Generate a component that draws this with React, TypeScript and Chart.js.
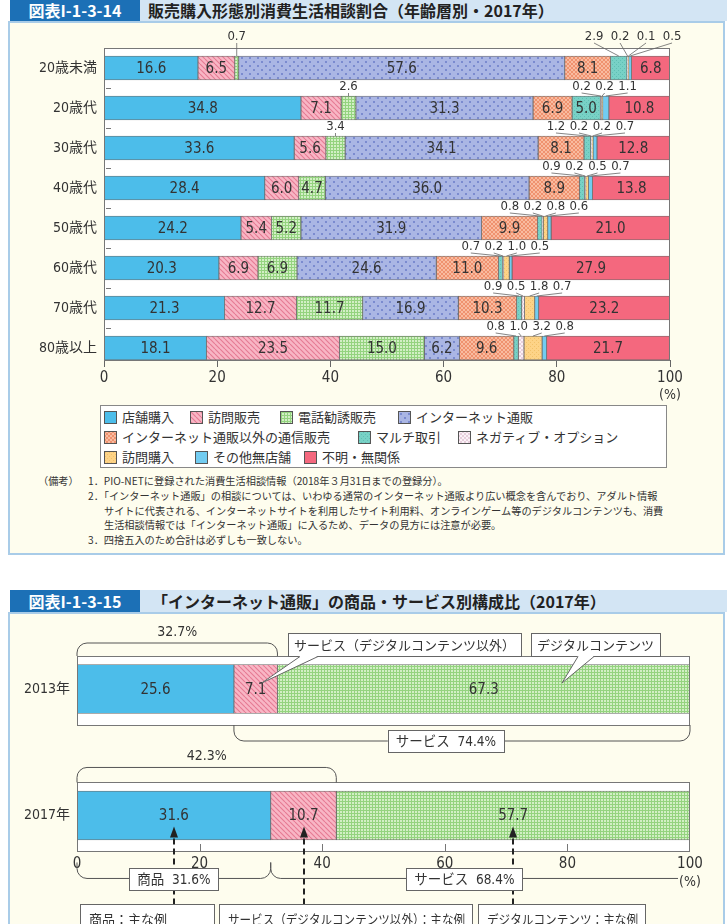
import React, { useEffect, useMemo, useRef } from 'react';
import { Chart, registerables } from 'chart.js';

Chart.register(...registerables);

const NUM = "'Liberation Sans Narrow', 'DejaVu Sans Condensed', 'Noto Sans CJK JP', sans-serif";
const JP = "'Noto Sans CJK JP', 'Noto Sans', sans-serif";

// ---------- Chart 1 data ----------
const ageGroups = ['20歳未満', '20歳代', '30歳代', '40歳代', '50歳代', '60歳代', '70歳代', '80歳以上'];
const seriesNames = ['店舗購入', '訪問販売', '電話勧誘販売', 'インターネット通販', 'インターネット通販以外の通信販売', 'マルチ取引', 'ネガティブ・オプション', '訪問購入', 'その他無店舗', '不明・無関係'];
const storePurchase = [16.6, 34.8, 33.6, 28.4, 24.2, 20.3, 21.3, 18.1];
const doorToDoorSales = [6.5, 7.1, 5.6, 6.0, 5.4, 6.9, 12.7, 23.5];
const telemarketing = [0.7, 2.6, 3.4, 4.7, 5.2, 6.9, 11.7, 15.0];
const onlineShopping = [57.6, 31.3, 34.1, 36.0, 31.9, 24.6, 16.9, 6.2];
const otherMailOrder = [8.1, 6.9, 8.1, 8.9, 9.9, 11.0, 10.3, 9.6];
const multiLevel = [2.9, 5.0, 1.2, 0.9, 0.8, 0.7, 0.9, 0.8];
const negativeOption = [0.2, 0.2, 0.2, 0.2, 0.2, 0.2, 0.5, 1.0];
const homePurchase = [0.1, 0.2, 0.2, 0.5, 0.8, 1.0, 1.8, 3.2];
const otherNonStore = [0.5, 1.1, 0.7, 0.7, 0.6, 0.5, 0.7, 0.8];
const unknownUnrelated = [6.8, 10.8, 12.8, 13.8, 21.0, 27.9, 23.2, 21.7];
const seriesValues = [storePurchase, doorToDoorSales, telemarketing, onlineShopping, otherMailOrder, multiLevel, negativeOption, homePurchase, otherNonStore, unknownUnrelated];
const xTicks1 = [0, 20, 40, 60, 80, 100];

// ---------- Chart 2 data ----------
const years = ['2013年', '2017年'];
const goods = [25.6, 31.6];
const servicesNonDigital = [7.1, 10.7];
const digitalContent = [67.3, 57.7];
const webNames = ['商品', 'サービス（デジタルコンテンツ以外）', 'デジタルコンテンツ'];
const webValues = [goods, servicesNonDigital, digitalContent];
const xTicks2 = [0, 20, 40, 60, 80, 100];

// ---------- styles ----------
type Fill = { color?: string; tile?: string };
const seriesStyles: Fill[] = [
  { color: '#4cbdea' },
  { tile: 'stripe' },
  { tile: 'grid' },
  { tile: 'dots' },
  { tile: 'hatch' },
  { tile: 'multi' },
  { tile: 'neg' },
  { tile: 'visit' },
  { color: '#72ccf1' },
  { color: '#f4687e' },
];
const webStyles: Fill[] = [{ color: '#4cbdea' }, { tile: 'stripe' }, { tile: 'grid' }];

const SMALL = 4.5;

function makeTile(kind: string): HTMLCanvasElement {
  const c = document.createElement('canvas');
  let s = 4;
  if (kind === 'stripe') s = 5;
  if (kind === 'grid') s = 3;
  if (kind === 'dots') s = 8;
  c.width = s;
  c.height = s;
  const g = c.getContext('2d')!;
  const bg: Record<string, string> = {
    stripe: '#f8b6c5', grid: '#d2efc5', dots: '#aab6e4', hatch: '#f9bba0', neg: '#fbf2f7', visit: '#fdd387', multi: '#78d1c6',
  };
  g.fillStyle = bg[kind];
  g.fillRect(0, 0, s, s);
  if (kind === 'stripe') {
    g.strokeStyle = '#e57a93';
    g.lineWidth = 1.1;
    for (const o of [-s, 0, s]) {
      g.beginPath(); g.moveTo(o, 0); g.lineTo(o + s, s); g.stroke();
    }
  } else if (kind === 'grid') {
    g.fillStyle = '#94d37f';
    g.fillRect(0, 0, s, 1);
    g.fillRect(0, 0, 1, s);
  } else if (kind === 'dots') {
    g.fillStyle = '#7b8bcf';
    g.fillRect(1, 1, 2, 2);
    g.fillRect(5, 5, 2, 2);
  } else if (kind === 'hatch' || kind === 'neg') {
    g.strokeStyle = kind === 'hatch' ? '#ec8862' : '#e3c5d6';
    g.lineWidth = 0.8;
    for (const o of [-s, 0, s]) {
      g.beginPath(); g.moveTo(o, 0); g.lineTo(o + s, s); g.stroke();
      g.beginPath(); g.moveTo(o + s, 0); g.lineTo(o, s); g.stroke();
    }
  } else if (kind === 'visit' || kind === 'multi') {
    g.fillStyle = kind === 'visit' ? '#f2c16a' : '#5fbfb3';
    g.fillRect(0, 0, 1, 1);
    g.fillRect(2, 2, 1, 1);
  }
  return c;
}

const tileKinds = ['stripe', 'grid', 'dots', 'hatch', 'neg', 'visit', 'multi'];

function fillFor(ctx: CanvasRenderingContext2D, f: Fill, tiles: Record<string, HTMLCanvasElement>): any {
  if (f.tile) return ctx.createPattern(tiles[f.tile], 'repeat');
  return f.color;
}

function bracket(ctx: CanvasRenderingContext2D, x1: number, x2: number, yEdge: number, yLine: number, r: number, closeRight = true) {
  ctx.beginPath();
  ctx.moveTo(x1, yEdge);
  ctx.arcTo(x1, yLine, x1 + r, yLine, r);
  if (closeRight) {
    ctx.arcTo(x2, yLine, x2, yEdge, r);
    ctx.lineTo(x2, yEdge);
  } else {
    ctx.lineTo(x2, yLine);
  }
  ctx.stroke();
}

function labelBox(ctx: CanvasRenderingContext2D, text: string, cx: number, cy: number, h = 22) {
  ctx.font = `13.5px ${NUM}`;
  const w = ctx.measureText(text).width + 16;
  ctx.fillStyle = '#fff';
  ctx.fillRect(cx - w / 2, cy - h / 2, w, h);
  ctx.strokeStyle = '#666';
  ctx.lineWidth = 1;
  ctx.strokeRect(Math.round(cx - w / 2) + 0.5, Math.round(cy - h / 2) + 0.5, Math.round(w), h);
  ctx.fillStyle = '#333';
  ctx.textAlign = 'center';
  ctx.textBaseline = 'middle';
  ctx.fillText(text, cx, cy + 1);
}

function callout(ctx: CanvasRenderingContext2D, text: string, left: number, top: number, baseL: number, baseR: number, tipX: number, tipY: number) {
  ctx.font = `13px ${JP}`;
  const w = Math.round(ctx.measureText(text).width + 12);
  const h = 23;
  ctx.fillStyle = '#fff';
  ctx.fillRect(left, top, w, h);
  ctx.strokeStyle = '#666';
  ctx.lineWidth = 1;
  ctx.strokeRect(left + 0.5, top + 0.5, w, h);
  ctx.beginPath();
  ctx.moveTo(baseL, top + h);
  ctx.lineTo(tipX, tipY);
  ctx.lineTo(baseR, top + h);
  ctx.closePath();
  ctx.fillStyle = '#fff';
  ctx.fill();
  ctx.beginPath();
  ctx.moveTo(baseL, top + h + 0.5);
  ctx.lineTo(tipX, tipY);
  ctx.lineTo(baseR, top + h + 0.5);
  ctx.stroke();
  ctx.fillStyle = '#333';
  ctx.textAlign = 'center';
  ctx.textBaseline = 'middle';
  ctx.fillText(text, left + w / 2, top + h / 2 + 1);
}

const plugin1 = {
  id: 'ageDecor',
  beforeDraw(chart: any) {
    const { ctx, chartArea: a } = chart;
    ctx.save();
    ctx.fillStyle = '#ffffff';
    ctx.fillRect(a.left, a.top, a.right - a.left, a.bottom - a.top);
    ctx.restore();
  },
  afterDatasetsDraw(chart: any) {
    const { ctx, chartArea: a } = chart;
    const ys = chart.scales.y;
    ctx.save();
    ctx.strokeStyle = '#777';
    ctx.lineWidth = 1;
    ctx.strokeRect(a.left + 0.5, a.top + 0.5, a.right - a.left - 1, a.bottom - a.top);
    for (let k = 1; k < ageGroups.length; k++) {
      const y = Math.round(ys.getPixelForValue(k - 0.5)) + 0.5;
      ctx.beginPath(); ctx.moveTo(a.left + 2, y); ctx.lineTo(a.left + 7, y); ctx.stroke();
    }
    ctx.textAlign = 'center';
    ctx.textBaseline = 'middle';
    for (let i = 0; i < ageGroups.length; i++) {
      const segs = seriesValues.map((vals, k) => {
        const el = chart.getDatasetMeta(k).data[i];
        const p = el.getProps(['x', 'y', 'base', 'height'], true);
        return { v: vals[i], x0: Math.min(p.x, p.base), x1: Math.max(p.x, p.base), y: p.y, h: p.height };
      });
      let j = 0;
      while (j < segs.length) {
        const s = segs[j];
        if (s.v >= SMALL) {
          ctx.font = `15px ${NUM}`;
          ctx.fillStyle = '#333';
          ctx.fillText(s.v.toFixed(1), (s.x0 + s.x1) / 2, s.y + 1);
          j++;
          continue;
        }
        let e = j;
        while (e + 1 < segs.length && segs[e + 1].v < SMALL) e++;
        const n = e - j + 1;
        const barTop = s.y - s.h / 2;
        const top = i === 0;
        const spacing = top ? 26 : 23;
        const gc = (segs[j].x0 + segs[e].x1) / 2 + (top && n > 1 ? 12 : 0);
        const ly = top ? a.top - 11 : barTop - 9;
        ctx.font = `13px ${NUM}`;
        ctx.strokeStyle = '#666';
        ctx.lineWidth = 0.8;
        for (let m = 0; m < n; m++) {
          const seg = segs[j + m];
          const lx = gc + (m - (n - 1) / 2) * spacing;
          ctx.fillStyle = '#333';
          ctx.fillText(seg.v.toFixed(1), lx, ly);
          ctx.beginPath(); ctx.moveTo(lx, ly + 6); ctx.lineTo((seg.x0 + seg.x1) / 2, barTop); ctx.stroke();
        }
        j = e + 1;
      }
    }
    ctx.restore();
  },
};

const plugin2 = {
  id: 'webDecor',
  beforeDraw(chart: any) {
    const { ctx, chartArea: a } = chart;
    const y = chart.scales.y;
    ctx.save();
    ctx.fillStyle = '#fff';
    years.forEach((_, i) => {
      const yc = y.getPixelForValue(i);
      ctx.fillRect(a.left, Math.round(yc - 33), a.right - a.left, 69);
    });
    ctx.restore();
  },
  afterDatasetsDraw(chart: any) {
    const { ctx, chartArea: a } = chart;
    const x = chart.scales.x;
    const y = chart.scales.y;
    const yc0 = y.getPixelForValue(0);
    const yc1 = y.getPixelForValue(1);
    ctx.save();
    ctx.strokeStyle = '#777';
    ctx.lineWidth = 1;
    years.forEach((_, i) => {
      const yc = y.getPixelForValue(i);
      ctx.strokeRect(a.left + 0.5, Math.round(yc - 33) + 0.5, a.right - a.left - 1, 69);
    });
    const fb = Math.round(yc1 - 33) + 69;
    xTicks2.slice(1, -1).forEach((t) => {
      const px = Math.round(x.getPixelForValue(t)) + 0.5;
      ctx.beginPath(); ctx.moveTo(px, fb); ctx.lineTo(px, fb - 7); ctx.stroke();
    });
    // value labels
    ctx.textAlign = 'center';
    ctx.textBaseline = 'middle';
    ctx.font = `15px ${NUM}`;
    ctx.fillStyle = '#333';
    const centers: number[][] = [];
    years.forEach((_, i) => {
      centers[i] = [];
      webValues.forEach((vals, k) => {
        const el = chart.getDatasetMeta(k).data[i];
        const p = el.getProps(['x', 'y', 'base'], true);
        const cx = (p.x + p.base) / 2;
        centers[i][k] = cx;
        ctx.fillStyle = '#333';
        ctx.fillText(vals[i].toFixed(1), cx, p.y + 1);
      });
    });
    // dashed arrows (drawn first so boxes sit on top)
    ctx.strokeStyle = '#222';
    ctx.fillStyle = '#222';
    ctx.lineWidth = 2;
    centers[1].forEach((cx) => {
      const px = Math.round(cx);
      ctx.setLineDash([6, 4]);
      ctx.beginPath(); ctx.moveTo(px, yc1 + 89); ctx.lineTo(px, yc1 + 21); ctx.stroke();
      ctx.setLineDash([]);
      ctx.beginPath(); ctx.moveTo(px, yc1 + 11); ctx.lineTo(px - 4, yc1 + 22); ctx.lineTo(px + 4, yc1 + 22); ctx.closePath(); ctx.fill();
    });
    // brackets above
    ctx.strokeStyle = '#555';
    ctx.lineWidth = 1;
    const left = x.getPixelForValue(0);
    const right = x.getPixelForValue(100);
    const s0 = goods[0] + servicesNonDigital[0];
    const s1 = goods[1] + servicesNonDigital[1];
    bracket(ctx, left, x.getPixelForValue(s0), yc0 - 33, yc0 - 46, 10);
    bracket(ctx, left, x.getPixelForValue(s1), yc1 - 33, yc1 - 48, 10);
    ctx.font = `14px ${NUM}`;
    ctx.fillStyle = '#333';
    ctx.textAlign = 'center';
    ctx.fillText(s0.toFixed(1) + '%', (left + x.getPixelForValue(s0)) / 2, yc0 - 57);
    ctx.fillText(s1.toFixed(1) + '%', (left + x.getPixelForValue(s1)) / 2, yc1 - 59);
    // service 2013 bracket below
    const g0 = x.getPixelForValue(goods[0]);
    ctx.strokeStyle = '#555';
    bracket(ctx, g0, right, yc0 + 36, yc0 + 52, 10);
    labelBox(ctx, 'サービス  ' + (servicesNonDigital[0] + digitalContent[0]).toFixed(1) + '%', (g0 + right) / 2 - 16, yc0 + 52);
    // 2017 brackets below axis
    const g1 = x.getPixelForValue(goods[1]);
    ctx.strokeStyle = '#555';
    bracket(ctx, left, g1, yc1 + 47, yc1 + 63, 10);
    bracket(ctx, g1, right - 12, yc1 + 47, yc1 + 63, 10, false);
    labelBox(ctx, '商品  ' + goods[1].toFixed(1) + '%', (left + g1) / 2, yc1 + 64);
    labelBox(ctx, 'サービス  ' + (servicesNonDigital[1] + digitalContent[1]).toFixed(1) + '%', (g1 + right) / 2 - 16, yc1 + 64);
    ctx.font = `14px ${NUM}`;
    ctx.fillStyle = '#333';
    ctx.textAlign = 'center';
    ctx.fillText('(%)', right, yc1 + 67);
    // callouts
    callout(ctx, 'サービス（デジタルコンテンツ以外）', 288, yc0 - 56, 300, 318, centers[0][1] + 6, yc0 - 6);
    callout(ctx, 'デジタルコンテンツ', 531, yc0 - 56, 578, 594, 562, yc0 - 6);
    // example boxes
    const boxes: [string, number, number][] = [
      ['商品：主な例', 80, 214],
      ['サービス（デジタルコンテンツ以外）：主な例', 219, 472],
      ['デジタルコンテンツ：主な例', 478, 645],
    ];
    ctx.lineWidth = 1;
    ctx.strokeStyle = '#666';
    ctx.font = `13px ${JP}`;
    ctx.textAlign = 'left';
    boxes.forEach(([t, l, r]) => {
      ctx.fillStyle = '#fff';
      ctx.fillRect(l, yc1 + 89, r - l, 40);
      ctx.strokeRect(l + 0.5, Math.round(yc1 + 89) + 0.5, r - l, 40);
      ctx.fillStyle = '#333';
      ctx.fillText(t, l + 9, yc1 + 104, r - l - 16);
    });
    ctx.restore();
  },
};

export default function App() {
  const ref1 = useRef<HTMLCanvasElement>(null);
  const ref2 = useRef<HTMLCanvasElement>(null);

  const tiles = useMemo(() => {
    const t: Record<string, HTMLCanvasElement> = {};
    tileKinds.forEach((k) => { t[k] = makeTile(k); });
    return t;
  }, []);
  const tileUrls = useMemo(() => {
    const u: Record<string, string> = {};
    Object.keys(tiles).forEach((k) => { u[k] = tiles[k].toDataURL(); });
    return u;
  }, [tiles]);

  useEffect(() => {
    const c1 = ref1.current!;
    const ctx1 = c1.getContext('2d')!;
    const chart1 = new Chart(c1, {
      type: 'bar',
      data: {
        datasets: seriesValues.map((vals, k) => ({
          label: seriesNames[k],
          data: vals.map((v, i) => ({ x: v, y: i })),
          backgroundColor: fillFor(ctx1, seriesStyles[k], tiles),
          borderColor: '#6a6a6a',
          borderWidth: 0.8,
          borderSkipped: false,
          barThickness: 24,
        })) as any,
      },
      options: {
        indexAxis: 'y',
        animation: false,
        responsive: false,
        maintainAspectRatio: false,
        layout: { padding: { top: 24, right: 57, left: 0, bottom: 0 } },
        plugins: { legend: { display: false }, tooltip: { enabled: false } },
        scales: {
          x: {
            type: 'linear',
            stacked: true,
            min: 0,
            max: 100,
            offset: false,
            afterBuildTicks: (s: any) => { s.ticks = xTicks1.map((v) => ({ value: v })); },
            ticks: { font: { size: 15, family: NUM }, color: '#333', padding: 2 },
            grid: { drawOnChartArea: false, drawTicks: true, tickLength: 7, color: '#666', offset: false },
            border: { display: false },
            afterFit: (s: any) => { s.height = 54; },
          },
          y: {
            type: 'linear',
            stacked: true,
            reverse: true,
            offset: false,
            min: -0.5,
            max: 7.3,
            afterBuildTicks: (s: any) => { s.ticks = ageGroups.map((_, i) => ({ value: i })); },
            ticks: { callback: (v: any) => ageGroups[v] ?? '', font: { size: 14, family: NUM }, color: '#333', padding: 7, autoSkip: false },
            grid: { display: false, drawTicks: false, offset: false },
            border: { display: false },
            afterFit: (s: any) => { s.width = 104; },
          },
        },
      } as any,
      plugins: [plugin1],
    });

    const c2 = ref2.current!;
    const ctx2 = c2.getContext('2d')!;
    const chart2 = new Chart(c2, {
      type: 'bar',
      data: {
        datasets: webValues.map((vals, k) => ({
          label: webNames[k],
          data: vals.map((v, i) => ({ x: v, y: i })),
          backgroundColor: fillFor(ctx2, webStyles[k], tiles),
          borderColor: '#6a6a6a',
          borderWidth: 0.8,
          borderSkipped: false,
          barThickness: 49,
        })) as any,
      },
      options: {
        indexAxis: 'y',
        animation: false,
        responsive: false,
        maintainAspectRatio: false,
        layout: { padding: { top: 44, right: 37, left: 0, bottom: 0 } },
        plugins: { legend: { display: false }, tooltip: { enabled: false } },
        scales: {
          x: {
            type: 'linear',
            stacked: true,
            min: 0,
            max: 100,
            offset: false,
            afterBuildTicks: (s: any) => { s.ticks = xTicks2.map((v) => ({ value: v })); },
            ticks: { font: { size: 15, family: NUM }, color: '#333', padding: 4 },
            grid: { display: false, drawTicks: false },
            border: { display: false },
            afterFit: (s: any) => { s.height = 73; },
          },
          y: {
            type: 'linear',
            stacked: true,
            reverse: true,
            offset: false,
            min: -0.261,
            max: 1.281,
            afterBuildTicks: (s: any) => { s.ticks = years.map((_, i) => ({ value: i })); },
            ticks: { callback: (v: any) => years[v] ?? '', font: { size: 14, family: NUM }, color: '#333', padding: 7, autoSkip: false },
            grid: { display: false, drawTicks: false, offset: false },
            border: { display: false },
            afterFit: (s: any) => { s.width = 77; },
          },
        },
      } as any,
      plugins: [plugin2],
    });

    return () => { chart1.destroy(); chart2.destroy(); };
  }, [tiles]);

  const legendRows: [number, number][][] = [
    [[0, 104], [1, 190], [2, 280], [3, 398]],
    [[4, 104], [5, 358], [6, 458]],
    [[7, 104], [8, 195], [9, 304]],
  ];
  const legendY = [417, 437, 457];

  const swatchStyle = (f: Fill): React.CSSProperties =>
    f.tile ? { backgroundImage: `url(${tileUrls[f.tile]})`, backgroundRepeat: 'repeat' } : { backgroundColor: f.color };

  const abs = (s: React.CSSProperties): React.CSSProperties => ({ position: 'absolute', ...s });

  const noteStyle: React.CSSProperties = { position: 'absolute', fontSize: 10.2, color: '#333', whiteSpace: 'nowrap', lineHeight: '14px' };

  const headNum: React.CSSProperties = { color: '#fff', fontWeight: 700, fontSize: 16, textAlign: 'center', fontFamily: "'Noto Sans CJK JP', sans-serif", letterSpacing: 0 };

  return (
    <div style={{ position: 'absolute', left: 0, top: 0, width: 727, height: 924, overflow: 'hidden', background: '#fff', fontFamily: JP }}>
      {/* header 1 */}
      <div style={abs({ left: 10, top: 0, width: 717, height: 21, background: '#d3e5f4' })} />
      <div style={abs({ left: 10, top: 0, width: 130, height: 21, background: '#1c70b6', lineHeight: '21px', ...headNum })}>図表I-1-3-14</div>
      <div style={abs({ left: 148, top: 0, height: 21, fontWeight: 700, fontSize: 16, lineHeight: '21px', color: '#222', whiteSpace: 'nowrap' })}>販売購入形態別消費生活相談割合（年齢層別・2017年）</div>
      {/* panel 1 */}
      <div style={abs({ left: 8, top: 21, width: 717, height: 534, background: '#fefdee', border: '2px solid #a9cce8', boxSizing: 'border-box' })} />
      <canvas ref={ref1} width={727} height={390} style={abs({ left: 0, top: 24, width: 727, height: 390 })} />
      <div style={abs({ left: 650, top: 386, width: 40, textAlign: 'center', fontSize: 14, fontFamily: NUM, color: '#333' })}>(%)</div>
      {/* legend */}
      <div style={abs({ left: 100, top: 405, width: 567, height: 63, background: '#fff', border: '1px solid #888', boxSizing: 'border-box' })} />
      {legendRows.map((row, r) =>
        row.map(([k, x]) => (
          <React.Fragment key={`${r}-${k}`}>
            <div style={abs({ left: x, top: legendY[r] - 6, width: 11, height: 11, border: '1px solid #555', ...swatchStyle(seriesStyles[k]) })} />
            <div style={abs({ left: x + 18, top: legendY[r] - 10, fontSize: 13, lineHeight: '20px', color: '#333', whiteSpace: 'nowrap' })}>{seriesNames[k]}</div>
          </React.Fragment>
        ))
      )}
      {/* notes */}
      <div style={{ ...noteStyle, left: 38, top: 474 }}>（備考）</div>
      <div style={{ ...noteStyle, left: 88, top: 474 }}>1．PIO-NETに登録された消費生活相談情報（2018年３月31日までの登録分）。</div>
      <div style={{ ...noteStyle, left: 88, top: 489 }}>2．「インターネット通販」の相談については、いわゆる通常のインターネット通販より広い概念を含んでおり、アダルト情報</div>
      <div style={{ ...noteStyle, left: 104, top: 504 }}>サイトに代表される、インターネットサイトを利用したサイト利用料、オンラインゲーム等のデジタルコンテンツも、消費</div>
      <div style={{ ...noteStyle, left: 104, top: 518 }}>生活相談情報では「インターネット通販」に入るため、データの見方には注意が必要。</div>
      <div style={{ ...noteStyle, left: 88, top: 533 }}>3．四捨五入のため合計は必ずしも一致しない。</div>
      {/* header 2 */}
      <div style={abs({ left: 10, top: 590, width: 717, height: 22, background: '#d3e5f4' })} />
      <div style={abs({ left: 10, top: 590, width: 130, height: 22, background: '#1c70b6', lineHeight: '22px', ...headNum })}>図表I-1-3-15</div>
      <div style={abs({ left: 152, top: 590, height: 22, fontWeight: 700, fontSize: 16, lineHeight: '22px', color: '#222', whiteSpace: 'nowrap' })}>「インターネット通販」の商品・サービス別構成比（2017年）</div>
      {/* panel 2 */}
      <div style={abs({ left: 8, top: 612, width: 717, height: 330, background: '#fefdee', border: '2px solid #a9cce8', boxSizing: 'border-box' })} />
      <canvas ref={ref2} width={727} height={312} style={abs({ left: 0, top: 612, width: 727, height: 312 })} />
    </div>
  );
}
